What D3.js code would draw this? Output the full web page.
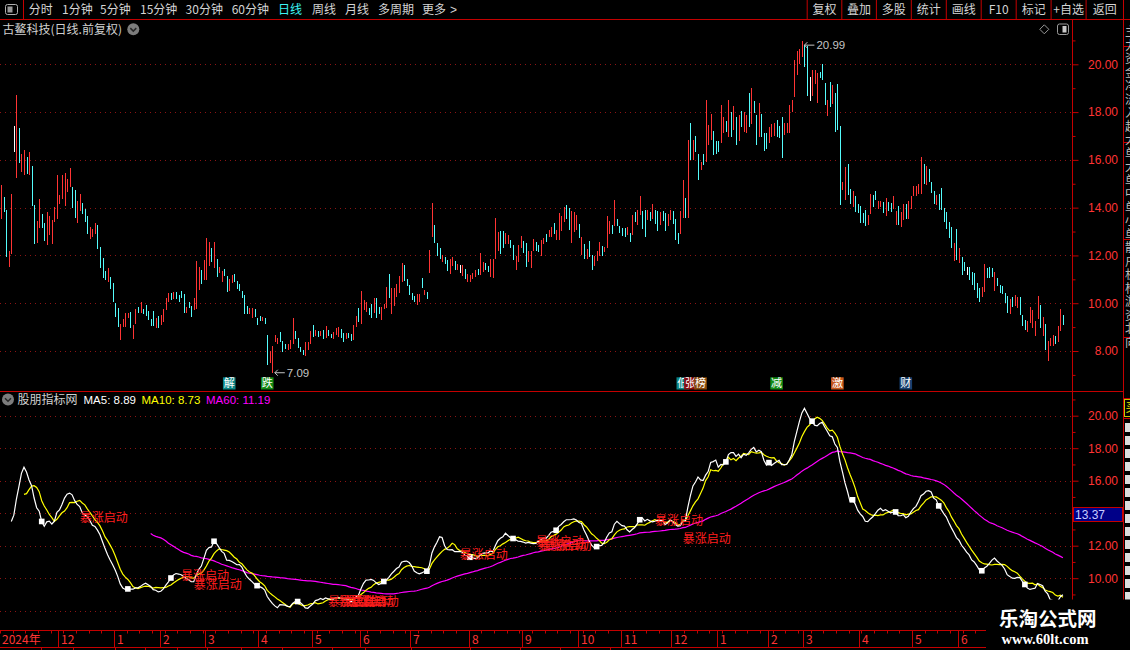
<!DOCTYPE html>
<html><head><meta charset="utf-8"><title>古鳌科技</title>
<script src="https://cdn.jsdelivr.net/npm/d3@7/dist/d3.min.js"></script>
<style>
html,body{margin:0;padding:0;background:#000;overflow:hidden;}
svg{display:block;}
</style></head>
<body>
<svg id="chart" width="1130" height="650"></svg>
<script>
// ---------------- DATA ----------------
const opens = [
13.51,14.44,13.89,11.50,12.06,16.88,15.24,17.33,15.51,15.36,
16.14,15.35,15.76,14.10,12.54,13.14,13.72,13.36,12.44,12.86,
12.47,13.42,13.51,14.14,14.35,14.06,14.65,14.86,14.85,14.72,
13.36,13.85,14.18,13.93,13.64,12.68,12.76,12.89,13.26,12.35,
11.89,11.35,10.89,11.10,10.85,10.01,9.81,8.47,8.99,9.01,
9.39,9.64,8.51,9.14,9.85,9.60,9.76,9.93,9.68,9.35,
9.68,8.97,9.47,9.10,9.22,9.72,10.06,10.43,10.18,10.47,
10.35,10.51,10.39,9.60,10.06,9.89,9.72,9.76,10.56,11.39,
10.97,10.97,11.56,12.31,11.47,11.85,11.26,10.89,11.43,11.14,
10.51,10.85,11.22,10.93,10.81,10.51,10.35,9.89,9.56,9.39,
9.76,9.39,9.47,9.26,9.39,8.68,7.51,7.09,8.39,8.31,
8.81,8.43,8.31,8.06,8.10,8.31,8.85,8.56,8.18,8.06,
7.81,8.06,8.31,9.10,8.64,8.85,8.64,8.89,8.56,8.89,
8.72,8.51,8.68,8.60,8.93,8.76,8.51,8.76,8.72,8.47,
9.01,9.81,9.14,9.72,9.64,9.81,9.97,9.60,10.22,9.85,
9.31,9.76,9.81,11.22,9.56,9.89,10.26,10.43,10.89,11.60,
11.01,10.76,10.43,10.31,9.93,10.06,11.06,10.35,10.47,11.26,
12.76,13.26,12.51,12.31,11.72,11.93,11.81,11.22,11.56,11.76,
11.39,11.43,11.14,11.43,10.89,10.89,11.01,11.10,11.43,11.18,
11.31,11.68,11.56,11.10,11.06,11.85,12.18,13.01,13.01,12.47,
12.47,12.64,12.43,11.39,11.72,12.31,12.60,12.51,11.72,11.47,
12.18,12.56,12.43,11.97,12.47,12.89,12.76,12.76,13.35,12.64,
12.64,13.01,13.39,14.10,13.97,12.51,12.97,13.06,13.31,12.01,
12.47,11.85,12.60,12.01,11.56,11.76,11.97,12.39,12.14,12.31,
12.89,13.26,13.24,13.51,13.22,13.14,13.14,12.85,12.93,12.85,
13.81,13.26,13.68,13.85,13.89,13.47,13.81,13.51,13.89,13.85,
13.28,13.85,13.76,13.22,13.47,13.85,13.51,12.92,12.90,13.57,
14.40,
13.57,17.53,16.00,17.00,16.25,15.58,16.25,15.89,16.63,16.83,
17.21,16.79,16.79,16.69,17.11,17.64,16.97,18.01,17.25,17.78,
16.81,18.04,17.15,17.11,18.81,17.50,18.46,17.88,16.94,17.92,
17.14,17.11,16.69,16.97,17.00,17.67,17.40,17.78,17.04,17.11,
17.14,18.01,18.64,19.54,20.03,20.31,20.79,20.75,18.97,18.68,
19.19,18.36,19.68,20.00,19.22,17.83,19.26,18.33,18.81,19.19,
17.42,14.72,14.33,15.83,14.78,14.01,14.50,14.17,14.06,13.78,
13.92,13.26,13.75,14.54,14.71,13.94,14.03,14.22,13.64,14.22,
14.19,13.96,13.26,14.06,13.18,13.50,14.17,13.54,13.94,14.47,
14.47,14.57,14.58,15.83,14.96,15.61,15.07,14.68,14.13,14.58,
14.82,13.99,13.81,13.39,13.19,11.76,13.11,11.69,11.94,11.74,
11.35,11.53,11.31,11.28,10.83,10.63,10.28,10.49,11.49,11.51,
11.49,10.51,11.04,10.76,10.72,10.42,10.31,9.54,10.26,9.89,
9.82,10.26,9.51,9.31,8.78,9.19,8.96,8.61,9.33,9.93,
8.64,9.13,7.57,8.19,8.22,8.64,8.36,8.85,9.51];

const highs = [
14.93,14.44,13.89,12.19,14.56,17.43,18.72,17.33,16.26,16.43,
16.14,16.31,15.76,14.10,13.43,14.35,13.72,13.36,13.81,13.65,
13.47,14.01,15.35,14.51,15.35,15.43,15.22,15.68,14.85,14.72,
14.26,14.56,14.18,13.93,13.64,13.18,13.10,13.35,13.26,12.35,
11.89,11.35,11.47,11.10,10.85,10.01,9.81,9.14,9.35,9.60,
9.60,9.64,9.10,9.76,9.85,10.06,9.76,9.93,9.68,9.35,
9.68,9.39,9.47,9.51,9.76,10.22,10.43,10.43,10.47,10.47,
10.35,10.51,10.39,9.85,10.06,9.89,10.22,11.76,11.51,11.39,
11.81,12.72,12.56,12.31,12.56,11.85,11.51,11.35,11.43,11.14,
11.01,11.18,11.22,10.93,10.81,10.51,10.35,9.89,9.81,9.81,
9.76,9.39,9.47,9.43,9.39,8.68,8.01,8.22,8.68,8.56,
8.81,8.43,8.31,8.31,8.47,9.39,8.85,8.56,8.18,8.06,
8.39,8.39,8.85,9.10,8.89,8.85,8.85,8.89,9.06,8.89,
8.72,8.81,8.97,9.01,8.93,8.76,8.76,8.76,8.72,9.10,
9.47,9.81,10.51,10.14,10.06,9.81,9.97,10.22,10.22,9.85,
9.85,9.97,10.68,11.22,10.64,10.64,10.81,11.14,11.68,11.60,
11.01,10.76,10.43,10.31,10.39,10.39,11.06,10.56,10.47,12.22,
14.18,13.26,12.51,12.31,12.01,11.93,11.81,11.85,11.93,11.76,
11.64,11.60,11.60,11.43,11.22,11.18,11.26,11.39,11.43,12.10,
11.72,11.68,11.56,11.85,11.85,13.56,12.97,13.01,13.01,12.93,
12.85,12.64,12.43,11.97,12.43,12.81,12.60,12.51,12.18,12.18,
12.68,12.56,12.43,12.64,12.72,12.89,13.06,13.18,13.35,13.06,
13.76,13.64,14.01,14.10,13.97,13.85,13.81,13.68,13.31,12.76,
12.47,12.26,12.60,12.01,11.97,12.18,12.56,12.39,12.35,13.64,
13.43,13.26,14.31,13.51,13.22,13.14,13.14,13.18,12.93,13.68,
13.81,13.89,14.47,13.85,13.89,13.89,13.81,14.14,13.89,13.85,
13.81,13.85,13.76,13.72,13.89,13.85,13.51,12.92,13.85,15.17,
14.40,
16.83,17.53,16.83,17.00,16.25,15.92,16.25,18.50,17.46,17.92,
17.21,16.79,16.79,18.29,17.78,17.64,18.50,18.01,18.25,17.78,
17.88,18.04,18.01,17.88,18.81,18.99,18.46,17.88,18.39,17.92,
17.14,17.11,17.39,17.50,17.53,17.67,17.40,17.78,17.53,17.56,
18.29,18.50,20.17,20.56,20.65,20.99,20.79,20.75,19.47,19.78,
19.78,19.64,19.68,20.00,19.22,18.50,19.26,19.13,18.81,19.19,
17.42,15.06,15.72,15.83,14.78,14.68,14.50,14.17,14.06,13.78,
13.92,13.71,14.58,14.54,14.71,14.29,14.29,14.22,14.40,14.22,
14.19,14.47,13.85,14.06,13.81,14.17,14.17,14.29,14.50,14.89,
14.89,15.00,16.11,15.83,15.76,15.61,15.07,14.68,14.51,14.58,
14.82,13.99,13.81,13.39,13.19,12.50,13.11,12.32,11.94,11.74,
11.53,11.53,11.31,11.28,10.83,10.63,10.69,11.63,11.49,11.51,
11.49,11.32,11.04,10.76,10.72,10.42,10.31,10.19,10.26,10.35,
10.26,10.26,9.51,9.31,9.24,9.85,9.71,9.24,10.31,9.93,
9.44,9.13,8.40,8.54,8.68,8.64,9.06,9.75,9.51];

const lows = [
13.51,13.82,11.94,11.50,12.06,16.32,15.24,15.85,15.51,15.36,
15.39,15.35,14.07,12.47,12.54,13.14,13.14,12.60,12.44,12.86,
12.47,13.42,13.51,14.14,14.35,14.06,14.65,14.86,13.97,13.56,
13.36,13.85,13.74,13.39,12.89,12.68,12.76,12.89,12.26,11.47,
11.06,10.97,10.89,10.60,10.06,9.43,9.01,8.47,8.99,9.01,
9.39,8.97,8.51,9.14,9.60,9.60,9.56,9.47,9.31,9.06,
9.06,8.97,8.97,9.10,9.22,9.72,10.06,10.14,10.18,10.18,
10.06,10.22,9.60,9.60,9.81,9.43,9.72,9.76,10.56,10.81,
10.97,10.97,11.56,11.72,11.47,11.10,11.26,10.89,11.14,10.46,
10.51,10.85,10.89,10.60,10.51,10.22,9.56,9.56,9.56,9.39,
9.43,9.10,9.26,9.26,9.14,7.43,7.51,7.09,8.39,8.31,
8.39,7.97,8.10,8.06,8.10,8.31,8.51,8.14,7.97,7.85,
7.81,8.06,8.31,8.58,8.64,8.60,8.64,8.51,8.56,8.64,
8.56,8.51,8.68,8.60,8.56,8.39,8.51,8.56,8.43,8.47,
9.01,9.22,9.14,9.72,9.64,9.51,9.39,9.60,9.39,9.56,
9.31,9.76,9.81,10.22,9.56,9.89,10.26,10.43,10.89,10.93,
10.72,10.35,10.14,10.06,9.93,10.06,10.64,10.35,10.18,11.26,
12.76,12.51,11.97,11.85,11.72,11.64,11.35,11.22,11.56,11.39,
11.39,11.26,11.14,11.01,10.89,10.89,11.01,11.10,11.18,11.18,
11.31,11.39,11.31,11.10,11.06,11.85,12.18,12.06,12.31,12.47,
12.47,12.31,11.81,11.39,11.72,12.31,12.10,11.51,11.72,11.47,
12.18,12.18,12.14,11.97,12.47,12.56,12.76,12.76,12.89,12.64,
12.64,13.01,13.39,13.51,13.06,12.51,12.97,13.06,12.72,12.01,
11.85,11.85,11.93,11.39,11.56,11.76,11.97,11.97,12.14,12.31,
12.89,12.89,13.24,13.22,12.93,12.81,12.76,12.85,12.56,12.85,
13.39,13.26,13.68,13.10,12.76,13.47,13.43,13.51,13.31,13.01,
13.28,13.43,13.01,13.22,13.47,13.31,12.64,12.46,12.90,13.57,
13.57,
13.57,16.00,16.00,16.35,15.14,15.58,15.79,15.89,16.63,16.83,
16.21,16.25,16.32,16.69,17.11,17.15,16.97,16.94,17.25,16.63,
16.81,17.39,17.15,17.11,17.39,17.50,17.97,16.63,16.94,16.94,
16.39,16.46,16.69,16.97,17.00,16.94,16.90,16.07,17.04,17.11,
17.14,18.01,18.64,19.54,20.03,20.31,19.89,18.68,18.47,18.68,
19.19,18.36,19.43,19.36,18.29,17.83,18.22,18.33,17.15,17.25,
14.13,14.72,14.33,14.51,14.15,14.01,13.81,13.78,13.36,13.36,
13.22,13.26,13.75,14.03,14.33,13.94,14.03,13.78,13.64,13.85,
13.82,13.96,13.26,13.26,13.18,13.50,13.54,13.54,13.94,14.47,
14.47,14.57,14.58,15.00,14.96,15.07,14.61,14.17,14.13,13.89,
13.92,13.39,13.11,12.74,12.32,11.76,11.81,11.69,11.18,11.35,
11.18,10.97,10.76,10.56,10.21,10.07,10.28,10.49,11.07,11.07,
11.11,10.51,10.72,10.42,10.38,10.00,9.57,9.54,9.86,9.89,
9.82,9.51,9.06,8.89,8.78,9.19,8.96,8.61,9.33,8.96,
8.64,8.06,7.57,8.19,8.22,8.29,8.36,8.85,9.10];

const closes = [
14.93,13.82,11.94,12.19,14.56,16.88,18.72,15.85,16.26,16.43,
15.39,16.31,14.07,12.47,13.43,14.35,13.14,12.60,13.81,13.65,
13.47,14.01,15.35,14.51,15.35,15.43,15.22,15.68,13.97,13.56,
14.26,14.56,13.74,13.39,12.89,13.18,13.10,13.35,12.26,11.47,
11.06,10.97,11.47,10.60,10.06,9.43,9.01,9.14,9.35,9.60,
9.60,8.97,9.10,9.76,9.60,10.06,9.56,9.47,9.31,9.06,
9.06,9.39,8.97,9.51,9.76,10.22,10.43,10.14,10.47,10.18,
10.06,10.22,9.60,9.85,9.81,9.43,10.22,11.76,11.51,10.81,
11.81,12.72,12.56,11.72,12.56,11.10,11.51,11.35,11.14,10.46,
11.01,11.18,10.89,10.60,10.51,10.22,9.56,9.56,9.81,9.81,
9.43,9.10,9.26,9.43,9.14,7.43,8.01,8.22,8.68,8.56,
8.39,7.97,8.10,8.31,8.47,9.39,8.51,8.14,7.97,7.85,
8.39,8.39,8.85,8.58,8.89,8.60,8.85,8.51,9.06,8.64,
8.56,8.81,8.97,9.01,8.56,8.39,8.76,8.56,8.43,9.10,
9.47,9.22,10.51,10.14,10.06,9.51,9.39,10.22,9.39,9.56,
9.85,9.97,10.68,10.22,10.64,10.64,10.81,11.14,11.68,10.93,
10.72,10.35,10.14,10.06,10.39,10.39,10.64,10.56,10.18,12.22,
14.18,12.51,11.97,11.85,12.01,11.64,11.35,11.85,11.93,11.39,
11.64,11.43,11.60,11.01,11.22,11.18,11.26,11.39,11.18,12.10,
11.72,11.39,11.31,11.85,11.85,13.56,12.97,12.06,12.31,12.93,
12.85,12.31,11.81,11.97,12.43,12.81,12.10,11.51,12.18,12.18,
12.68,12.18,12.14,12.64,12.72,12.56,13.06,13.18,12.89,13.06,
13.76,13.64,14.01,13.51,13.06,13.85,13.81,13.68,12.72,12.76,
11.85,12.26,11.93,11.39,11.97,12.18,12.56,11.97,12.35,13.64,
13.43,12.89,14.31,13.22,12.93,12.81,12.76,13.18,12.56,13.68,
13.39,13.89,14.47,13.10,12.76,13.89,13.43,14.14,13.31,13.01,
13.81,13.43,13.01,13.72,13.89,13.31,12.64,12.46,13.85,15.17,
13.57,
16.83,16.00,16.83,16.35,15.14,15.92,15.79,18.50,17.46,17.92,
16.21,16.25,16.32,18.29,17.78,17.15,18.50,16.94,18.25,16.63,
17.88,17.39,18.01,17.88,17.39,18.99,17.97,16.63,18.39,16.94,
16.39,16.46,17.39,17.50,17.53,16.94,16.90,16.07,17.53,17.56,
18.29,18.50,20.17,20.56,20.65,20.99,19.89,18.68,18.97,19.78,
19.78,19.64,19.43,19.36,18.29,18.50,18.22,19.13,17.15,17.25,
14.13,15.06,15.72,14.51,14.15,14.68,13.81,13.78,13.36,13.36,
13.22,13.71,14.58,14.03,14.33,14.29,14.29,13.78,14.40,13.85,
13.82,14.47,13.85,13.26,13.81,14.17,13.54,14.29,14.50,14.89,
14.89,15.00,16.11,15.00,15.76,15.07,14.61,14.17,14.51,13.89,
13.92,13.39,13.11,12.74,12.32,12.50,11.81,12.32,11.18,11.35,
11.35,10.97,10.76,10.56,10.21,10.07,10.69,11.63,11.07,11.07,
11.11,11.32,10.72,10.42,10.38,10.00,9.57,10.19,9.86,10.35,
10.26,9.51,9.06,8.89,9.24,9.85,9.71,9.24,10.31,8.96,
9.44,8.06,8.40,8.54,8.68,8.29,9.06,9.75,9.10];

// month starts (bar index) and their labels on the time bar
const monthStarts = [0,23,45,63,81,102,123,142,162,185,206,228,245,265,283,303,317,339,360,378];
const monthLabels = ["2024年","12","1","2","3","4","5","6","7","8","9","10","11","12","1","2","3","4","5","6"];
// price axis ticks
const priceTicks = [8,10,12,14,16,18,20];
const priceMinor = [7,9,11,13,15,17,19,21];
const maTicks = [10,12,16,18,20];
const maMajorNoLabel = [8,14];
const maMinor = [9,11,13,15,17,19,21];
// event badges under the candles: bar index, text, colour
const eventIdx = [90,105,269,272,276,306,330,357];
const eventText = ["解","跌","低","张","榜","减","激","财"];
const eventColor = ["#0b8585","#128a12","#0b8585","#8a0c0c","#8a4a0c","#128a12","#c8561a","#173f6e"];
// indicator-panel signals "暴涨启动": bar index and level
const signalIdx = [31,71,76,129,133,136,138,181,211,212,214,258,269];
const signalVal = [13.73,10.17,9.58,8.57,8.57,8.57,8.57,11.42,12.26,11.99,11.99,13.53,12.46];
// white square marks on the MA5 line (bar indexes)
const squareIdx = [16,50,67,84,101,117,151,168,185,202,219,235,252,286,303,320,336,353,370,387,404];
// toolbar texts
const periodTabs = ["分时","1分钟","5分钟","15分钟","30分钟","60分钟","日线","周线","月线","多周期","更多"];
const rightButtons = ["复权","叠加","多股","统计","画线","F10","标记","+自选","返回"];
const legendTexts = ["MA5: 8.89","MA10: 8.73","MA60: 11.19"];

// ---------------- DRAWING ----------------
const W = 1130, H = 650;
const svg = d3.select("#chart");
const FONT = '"Liberation Sans","Noto Sans CJK SC",sans-serif';
const CJK = '"Noto Sans CJK SC","Liberation Sans",sans-serif';
const RED = "#c40000", GRID = "#8c1414", AXT = "#ff3434";
const UP = "#ff3434", DN = "#54fcfc", FLAT = "#ffffff";
svg.append("rect").attr("width", W).attr("height", H).attr("fill", "#000");

const N = closes.length;
const x = d3.scaleLinear().domain([0, N - 1]).range([1.17, 1062.9]);
const step = x(1) - x(0);
const yP = d3.scaleLinear().domain([8, 20]).range([351, 64.3]);
const yM = d3.scaleLinear().domain([10, 20]).range([578.2, 415.7]);
const AXX = 1072.5;

// ---- toolbar ----
const tb = svg.append("g").attr("font-family", CJK).attr("font-size", 12);
tb.append("line").attr("x1", 0).attr("x2", W).attr("y1", 19.5).attr("y2", 19.5).attr("stroke", RED);
tb.append("line").attr("x1", 23.5).attr("x2", 23.5).attr("y1", 0).attr("y2", 19.5).attr("stroke", RED);
tb.append("rect").attr("x", 5.5).attr("y", 4.5).attr("width", 12).attr("height", 10).attr("rx", 2)
  .attr("fill", "none").attr("stroke", "#b0b0b0");
tb.append("rect").attr("x", 7.5).attr("y", 6.5).attr("width", 5).attr("height", 6).attr("fill", "#9a9a9a");
const tabX = [28.8,62,100,140,185.6,231.7,278,312,345,378,422];
periodTabs.forEach((t, i) => {
  tb.append("text").attr("x", tabX[i]).attr("y", 13.8).text(t)
    .attr("fill", t === "日线" ? "#3cf4f4" : "#d4d4d4");
});
tb.append("text").attr("x", 450).attr("y", 13.8).text(">").attr("fill", "#d4d4d4").attr("font-family", FONT);
const sepX = [807.2,841.8,876.4,911.3,946.3,981.2,1016.2,1051.1,1086.1,1123.5];
sepX.forEach(s => tb.append("line").attr("x1", s).attr("x2", s).attr("y1", 0).attr("y2", 19.5).attr("stroke", RED));
rightButtons.forEach((t, i) => {
  tb.append("text").attr("x", (sepX[i] + sepX[i + 1]) / 2).attr("y", 13.8).attr("text-anchor", "middle")
    .text(t).attr("fill", "#d4d4d4");
});

// ---- title row ----
svg.append("text").attr("x", 2.5).attr("y", 33.8).attr("font-family", CJK).attr("font-size", 12)
  .attr("fill", "#d0d0d0").text("古鳌科技(日线.前复权)");
function dropIcon(cx, cy) {
  svg.append("circle").attr("cx", cx).attr("cy", cy).attr("r", 6).attr("fill", "#7c7c7c");
  svg.append("path").attr("d", `M${cx - 3},${cy - 1.2} L${cx},${cy + 1.8} L${cx + 3},${cy - 1.2}`)
    .attr("fill", "none").attr("stroke", "#262626").attr("stroke-width", 1.5);
}
dropIcon(133.3, 29.3);
svg.append("path").attr("d", "M1044.3,24.8 L1048.8,29.3 L1044.3,33.8 L1039.8,29.3 Z")
  .attr("fill", "none").attr("stroke", "#9a9a9a");
svg.append("rect").attr("x", 1057.5).attr("y", 24).attr("width", 11).attr("height", 10.5).attr("rx", 2)
  .attr("fill", "none").attr("stroke", "#9a9a9a");
svg.append("rect").attr("x", 1062.5).attr("y", 26).attr("width", 4).attr("height", 6.5).attr("fill", "#c8c8c8");

// ---- upper price panel ----
const up = svg.append("g");
up.selectAll("line.g").data(priceTicks).join("line")
  .attr("x1", 0).attr("x2", AXX).attr("y1", d => Math.round(yP(d)) + 0.5).attr("y2", d => Math.round(yP(d)) + 0.5)
  .attr("stroke", GRID).attr("stroke-dasharray", "1,4");

const candles = up.append("g").attr("shape-rendering", "crispEdges");
closes.forEach((c, i) => {
  const o = opens[i];
  const col = c > o ? UP : (c < o ? DN : FLAT);
  const cx = Math.round(x(i)) + 0.5;
  const yh = yP(highs[i]), yl = yP(lows[i]);
  candles.append("line").attr("x1", cx).attr("x2", cx).attr("y1", yh).attr("y2", Math.max(yl, yh + 1))
    .attr("stroke", col).attr("stroke-width", 1);
  const bt = yP(Math.max(o, c)), bb = yP(Math.min(o, c));
  candles.append("rect").attr("x", cx - 0.5).attr("y", bt).attr("width", 1.2).attr("height", Math.max(1, bb - bt))
    .attr("fill", col);
});

// extremes annotations
const iMax = d3.maxIndex(highs), iMin = d3.minIndex(lows);
function annot(i, yv, label) {
  const x0 = x(i) + 1.5;
  up.append("path").attr("d", `M${x0 + 1},${yv} L${x0 + 11},${yv} M${x0 + 4},${yv - 3} L${x0 + 1},${yv} L${x0 + 4},${yv + 3}`)
    .attr("stroke", "#c4c4c4").attr("fill", "none");
  up.append("text").attr("x", x0 + 13).attr("y", yv).attr("dy", "0.36em").attr("font-family", FONT)
    .attr("font-size", 11.5).attr("fill", "#c4c4c4").text(label);
}
annot(iMax, yP(highs[iMax]) + 4.5, d3.format(".2f")(highs[iMax]));
annot(iMin, yP(lows[iMin]), d3.format(".2f")(lows[iMin]));

// event badges
eventIdx.forEach((ei, k) => {
  const cx = x(ei);
  up.append("rect").attr("x", cx - 6.3).attr("y", 377.3).attr("width", 12.6).attr("height", 12.2).attr("fill", eventColor[k]);
  up.append("text").attr("x", cx).attr("y", 383.4).attr("dy", "0.36em").attr("text-anchor", "middle")
    .attr("font-family", CJK).attr("font-size", 11).attr("fill", "#ffffff").text(eventText[k]);
});

// panel divider
svg.append("line").attr("x1", 0).attr("x2", 1123.5).attr("y1", 391.5).attr("y2", 391.5).attr("stroke", RED);

// ---- right axes ----
function styleAxis(g, labelled) {
  g.select(".domain").attr("stroke", RED);
  g.selectAll(".tick line").attr("stroke", RED);
  g.selectAll(".tick text").attr("fill", AXT).attr("font-family", FONT).attr("font-size", 12)
    .attr("text-anchor", "end").attr("x", 45.5);
  if (!labelled) g.selectAll(".tick text").remove();
}
const axU = svg.append("g").attr("transform", `translate(${AXX},0)`)
  .call(d3.axisRight(yP).tickValues(priceTicks).tickSize(6).tickFormat(d3.format(".2f")));
styleAxis(axU, true);
axU.select(".domain").remove();
const axUm = svg.append("g").attr("transform", `translate(${AXX},0)`)
  .call(d3.axisRight(yP).tickValues(priceMinor).tickSize(3).tickFormat(""));
styleAxis(axUm, false); axUm.select(".domain").remove();

const axL = svg.append("g").attr("transform", `translate(${AXX},0)`)
  .call(d3.axisRight(yM).tickValues(maTicks).tickSize(6).tickFormat(d3.format(".2f")));
styleAxis(axL, true); axL.select(".domain").remove();
const axL2 = svg.append("g").attr("transform", `translate(${AXX},0)`)
  .call(d3.axisRight(yM).tickValues(maMajorNoLabel).tickSize(6).tickFormat(""));
styleAxis(axL2, false); axL2.select(".domain").remove();
const axLm = svg.append("g").attr("transform", `translate(${AXX},0)`)
  .call(d3.axisRight(yM).tickValues(maMinor).tickSize(3).tickFormat(""));
styleAxis(axLm, false); axLm.select(".domain").remove();
svg.append("line").attr("x1", AXX).attr("x2", AXX).attr("y1", 19.5).attr("y2", 630).attr("stroke", RED);

// current value box
svg.append("rect").attr("x", 1073.5).attr("y", 507.5).attr("width", 49).attr("height", 14)
  .attr("fill", "#000088").attr("stroke", RED);
svg.append("text").attr("x", 1075).attr("y", 514.5).attr("dy", "0.36em").attr("font-family", FONT)
  .attr("font-size", 12).attr("fill", "#c8ccff").text("13.37");

// right side strip
svg.append("line").attr("x1", 1123.5).attr("x2", 1123.5).attr("y1", 0).attr("y2", 630).attr("stroke", RED);
[46, 142, 239, 337, 398, 418].forEach(yy => svg.append("line").attr("x1", 1123.5).attr("x2", W)
  .attr("y1", yy + 0.5).attr("y2", yy + 0.5).attr("stroke", RED));
const stripChars = "主力资金净流入超大单大单中单小单散户机构游资北向融资融券";
for (let k = 0; k < 24; k++) {
  const yy = 32 + k * 13.5;
  if (yy > 392) break;
  svg.append("text").attr("x", 1125).attr("y", yy + 4).attr("font-family", CJK).attr("font-size", 12)
    .attr("fill", "#bdbdbd").text(stripChars[k % stripChars.length]);
}
svg.append("rect").attr("x", 1124.5).attr("y", 399.5).attr("width", 8).attr("height", 17).attr("fill", "none").attr("stroke", "#c8c800");
svg.append("text").attr("x", 1125.5).attr("y", 412).attr("font-family", CJK).attr("font-size", 12).attr("fill", "#e8e800").text("买");
for (let k = 0; k < 14; k++) {
  const yy = 423 + k * 13;
  if (yy > 598) break;
  svg.append("rect").attr("x", 1125).attr("y", yy).attr("width", 5).attr("height", 9).attr("fill", "#dcdcdc");
}

// ---- lower indicator panel ----
const lo = svg.append("g");
lo.selectAll("line.g").data([8,10,12,14,16,18,20]).join("line")
  .attr("x1", 0).attr("x2", AXX).attr("y1", d => Math.round(yM(d)) + 0.5).attr("y2", d => Math.round(yM(d)) + 0.5)
  .attr("stroke", GRID).attr("stroke-dasharray", "1,4");

svg.append("clipPath").attr("id", "lowClip").append("rect").attr("x", 0).attr("y", 392).attr("width", AXX).attr("height", 237);
const maG = lo.append("g").attr("clip-path", "url(#lowClip)");
function movingAvg(n) {
  return closes.map((c, i) => i < n - 1 ? null : d3.mean(closes.slice(i - n + 1, i + 1)));
}
const ma5 = movingAvg(5), ma10 = movingAvg(10), ma60 = movingAvg(60);
const lineGen = d3.line().defined(d => d != null).x((d, i) => x(i)).y(d => yM(d));
maG.append("path").datum(ma60).attr("d", lineGen).attr("fill", "none").attr("stroke", "#ff00ff").attr("stroke-width", 1.2);
maG.append("path").datum(ma10).attr("d", lineGen).attr("fill", "none").attr("stroke", "#ffff00").attr("stroke-width", 1.2);
maG.append("path").datum(ma5).attr("d", lineGen).attr("fill", "none").attr("stroke", "#ffffff").attr("stroke-width", 1.2);
squareIdx.forEach(i => {
  maG.append("rect").attr("x", x(i) - 2.8).attr("y", yM(ma5[i]) - 2.8).attr("width", 5.6).attr("height", 5.6).attr("fill", "#ffffff");
});
signalIdx.forEach((i, k) => {
  maG.append("text").attr("x", x(i)).attr("y", yM(signalVal[k])).attr("dy", "0.36em")
    .attr("font-family", CJK).attr("font-size", 12).attr("fill", "#ff1e1e").text("暴涨启动");
});

// lower header
dropIcon(8, 399.5);
svg.append("text").attr("x", 17.5).attr("y", 404).attr("font-family", CJK).attr("font-size", 12)
  .attr("fill", "#d0d0d0").text("股朋指标网");
const legX = [83.5, 141.5, 206];
const legC = ["#ffffff", "#ffff00", "#ff00ff"];
legendTexts.forEach((t, k) => svg.append("text").attr("x", legX[k]).attr("y", 404).attr("font-family", FONT)
  .attr("font-size", 11.5).attr("fill", legC[k]).text(t));

// ---- bottom time bar ----
const tbar = svg.append("g");
tbar.append("line").attr("x1", 0).attr("x2", 1123.5).attr("y1", 630.5).attr("y2", 630.5).attr("stroke", RED);
tbar.append("line").attr("x1", 0).attr("x2", W).attr("y1", 647.5).attr("y2", 647.5).attr("stroke", RED);
for (let i = 0; i < N; i += 5) {
  const xx = Math.round(x(i) - step / 2) + 0.5;
  tbar.append("line").attr("x1", xx).attr("x2", xx).attr("y1", 630.5).attr("y2", 633.5).attr("stroke", RED);
}
monthStarts.forEach((m, k) => {
  const xx = Math.round(x(m) - step / 2) + 0.5;
  if (m > 0) tbar.append("line").attr("x1", xx).attr("x2", xx).attr("y1", 630.5).attr("y2", 647.5).attr("stroke", RED);
  tbar.append("text").attr("x", m === 0 ? 2 : xx + 2.5).attr("y", 643.5).attr("font-family", CJK)
    .attr("font-size", 12).attr("fill", AXT).text(monthLabels[k]);
});
[41, 73, 115, 145, 177, 207, 241, 282, 332, 365, 411, 470, 520, 560, 610].forEach(xx =>
  tbar.append("line").attr("x1", xx + 0.5).attr("x2", xx + 0.5).attr("y1", 647.5).attr("y2", 650).attr("stroke", RED));

// ---- watermark ----
svg.append("rect").attr("x", 986).attr("y", 599.5).attr("width", 144).attr("height", 51).attr("fill", "#000");
svg.append("text").attr("x", 999).attr("y", 626).attr("font-family", CJK).attr("font-weight", "bold")
  .attr("font-size", 19.5).attr("fill", "#ffffff").text("乐淘公式网");
svg.append("text").attr("x", 1001.5).attr("y", 643.5).attr("font-family", '"Liberation Serif",serif').attr("font-weight", "bold")
  .attr("font-size", 14.5).attr("fill", "#ffffff").text("www.60lt.com");
</script>
</body></html>
